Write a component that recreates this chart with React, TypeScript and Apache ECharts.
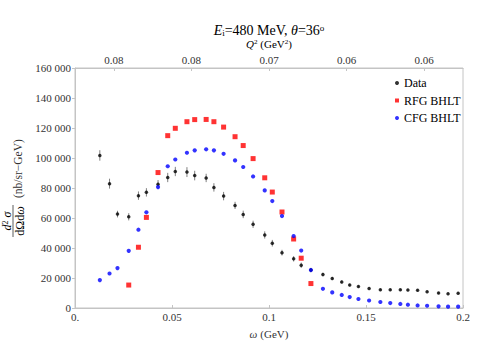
import React, { useEffect, useRef } from "react";
import * as echarts from "echarts";

// ω (GeV) positions shared by Data and CFG BHLT
const omega = [
  0.0128, 0.0178, 0.0219, 0.0277, 0.0327, 0.0368, 0.0428, 0.0478, 0.0517, 0.0577,
  0.0617, 0.0676, 0.0716, 0.0766, 0.0825, 0.0867, 0.0918, 0.0978, 0.1017, 0.1067,
  0.1127, 0.1166, 0.1216, 0.1278, 0.1326, 0.1375, 0.1416, 0.1461, 0.1516, 0.1574,
  0.1625, 0.1677, 0.1716, 0.1766, 0.1815, 0.1874, 0.1923, 0.1975,
];
const dataValues = [
  101700, 82900, 62600, 60800, 74900, 77100, 82500, 87000, 91000, 90600,
  88300, 86700, 80400, 74600, 68400, 62400, 55800, 48700, 43200, 36900,
  32800, 28500, 25300, 22300, 19700, 17400, 15300, 14300, 13000, 12200,
  12100, 12100, 12000, 11900, 10900, 10000, 9500, 9900,
];
const dataErrors = [
  3500, 3300, 2200, 2400, 2800, 2800, 2800, 3100, 3100, 3300,
  3200, 2800, 2800, 2800, 2400, 2500, 2400, 2400, 2200, 1900,
  1800, 1800, 1500, 1200, 1000, 900, 800, 700, 700, 600,
  600, 600, 600, 600, 600, 600, 600, 600,
];
const cfgValues = [
  18600, 23000, 26600, 38100, 52200, 63800, 80600, 94500, 99000, 103500,
  105100, 105800, 105100, 102800, 98400, 94000, 87700, 78400, 71300, 61300,
  48000, 38300, 25300, 12800, 10400, 8700, 7300, 6000, 5000, 4000,
  3300, 2700, 2200, 1700, 1500, 1100, 900, 900,
];
const rfgOmega = [
  0.0277, 0.0327, 0.0368, 0.0428, 0.0478, 0.0517, 0.0577, 0.0617, 0.0676, 0.0716,
  0.0766, 0.0825, 0.0867, 0.0918, 0.0978, 0.1017, 0.1067, 0.1127, 0.1166, 0.1216,
];
const rfgValues = [
  15300, 40500, 60400, 90300, 114900, 119800, 124200, 125600, 125700, 124200,
  120600, 114200, 108300, 99600, 86800, 77300, 64000, 46000, 33200, 16300,
];
const q2TickOmega = [0.02, 0.06, 0.1, 0.14, 0.18];
const q2TickLabels = ["0.08", "0.08", "0.07", "0.06", "0.06"];

const FONT = "'Liberation Serif', 'Times New Roman', serif";
const AXIS = "#c4c4c4";
const TEXT = "#333";

const richBase = (size: number) => ({
  n: { fontFamily: FONT, fontSize: size, color: TEXT, lineHeight: size },
  i: { fontFamily: FONT, fontSize: size, color: TEXT, fontStyle: "italic", lineHeight: size },
  sub: { fontFamily: FONT, fontSize: size * 0.65, color: TEXT, verticalAlign: "bottom", lineHeight: size * 0.6 },
  sup: { fontFamily: FONT, fontSize: size * 0.65, color: TEXT, verticalAlign: "top", lineHeight: size * 0.6 },
});

export default function App() {
  const ref = useRef<HTMLDivElement>(null);
  useEffect(() => {
    const chart = echarts.init(ref.current!, null, { renderer: "svg" });
    const option: any = {
      animation: false,
      textStyle: { fontFamily: FONT },
      grid: { left: 75, right: 17, top: 68, bottom: 52, show: true, borderColor: AXIS, borderWidth: 1 },
      legend: {
        orient: "vertical",
        left: 390,
        top: 72,
        itemWidth: 4,
        itemHeight: 4,
        itemGap: 5.5,
        textStyle: { fontFamily: FONT, fontSize: 12, color: "#000" },
        data: [
          { name: "Data", icon: "circle" },
          { name: "RFG BHLT", icon: "rect" },
          { name: "CFG BHLT", icon: "circle" },
        ],
      },
      xAxis: [
        {
          type: "value",
          min: 0,
          max: 0.2,
          interval: 0.05,
          axisLine: { show: true, lineStyle: { color: AXIS } },
          axisTick: { show: true, inside: true, length: 3, lineStyle: { color: AXIS } },
          splitLine: { show: false },
          axisLabel: {
            fontFamily: FONT,
            fontSize: 11,
            color: TEXT,
            margin: 3,
            formatter: (v: number) => (v === 0 ? "0." : String(+v.toFixed(2))),
          },
          name: "{i|ω} {n|(GeV)}",
          nameLocation: "middle",
          nameGap: 20,
          nameTextStyle: { rich: richBase(11) },
        },
        {
          type: "value",
          position: "top",
          min: 0,
          max: 0.2,
          axisLine: { show: true, lineStyle: { color: AXIS } },
          axisTick: { show: true, inside: true, length: 3, customValues: q2TickOmega, lineStyle: { color: AXIS } },
          splitLine: { show: false },
          axisLabel: {
            fontFamily: FONT,
            fontSize: 11,
            color: TEXT,
            margin: 3,
            customValues: q2TickOmega,
            formatter: (v: number) => {
              const k = q2TickOmega.findIndex((t) => Math.abs(t - v) < 1e-6);
              return k >= 0 ? q2TickLabels[k] : "";
            },
          },
        },
      ],
      yAxis: {
        type: "value",
        min: 0,
        max: 160000,
        interval: 20000,
        axisLine: { show: true, lineStyle: { color: AXIS } },
        axisTick: { show: true, inside: false, length: 3, lineStyle: { color: AXIS } },
        splitLine: { show: false },
        axisLabel: {
          fontFamily: FONT,
          fontSize: 11,
          color: TEXT,
          margin: 4,
          formatter: (v: number) => String(v).replace(/\B(?=(\d{3})+(?!\d))/g, " "),
        },
      },
      graphic: [
        {
          type: "text",
          x: 269,
          y: 30,
          style: {
            text: "{i|E}{sub|i}{n|=480 MeV, }{i|θ}{n|=36}{sup|o}",
            rich: richBase(14),
            align: "center",
            verticalAlign: "middle",
          },
        },
        {
          type: "text",
          x: 269,
          y: 44,
          style: {
            text: "{i|Q}{sup|2}{n| (GeV}{sup|2}{n|)}",
            rich: richBase(11),
            align: "center",
            verticalAlign: "middle",
          },
        },
        {
          type: "group",
          x: 13,
          y: 190,
          rotation: Math.PI / 2,
          children: [
            {
              type: "text",
              x: -31,
              y: -6,
              style: { text: "{i|d}{sup|2}{n| }{i|σ}", rich: richBase(12), align: "center", verticalAlign: "middle" },
            },
            {
              type: "line",
              shape: { x1: -47, y1: 0, x2: -15, y2: 0 },
              style: { stroke: TEXT, lineWidth: 0.8 },
            },
            {
              type: "text",
              x: -31,
              y: 6.5,
              style: { text: "{n|dΩd}{i|ω}", rich: richBase(12), align: "center", verticalAlign: "middle" },
            },
            {
              type: "text",
              x: -8,
              y: 5,
              style: {
                text: "(nb/sr−GeV)",
                fontFamily: FONT,
                fontSize: 11.5,
                fill: TEXT,
                align: "left",
                verticalAlign: "middle",
              },
            },
          ],
        },
      ],
      series: [
        {
          type: "custom",
          name: "errors",
          silent: true,
          z: 1,
          data: omega.map((w, k) => [w, dataValues[k] - dataErrors[k], dataValues[k] + dataErrors[k]]),
          encode: { x: 0, y: [1, 2] },
          renderItem: (_p: any, api: any) => {
            const lo = api.coord([api.value(0), api.value(1)]);
            const hi = api.coord([api.value(0), api.value(2)]);
            return {
              type: "line",
              shape: { x1: lo[0], y1: lo[1], x2: hi[0], y2: hi[1] },
              style: { stroke: "#808080", lineWidth: 1 },
            };
          },
        },
        {
          type: "scatter",
          name: "Data",
          symbol: "circle",
          symbolSize: 3.5,
          itemStyle: { color: "#000" },
          z: 2,
          data: omega.map((w, k) => [w, dataValues[k]]),
        },
        {
          type: "scatter",
          name: "RFG BHLT",
          symbol: "rect",
          symbolSize: 5,
          itemStyle: { color: "#ff0000" },
          z: 3,
          data: rfgOmega.map((w, k) => [w, rfgValues[k]]),
        },
        {
          type: "scatter",
          name: "CFG BHLT",
          symbol: "circle",
          symbolSize: 4.2,
          itemStyle: { color: "#0000ff" },
          z: 4,
          data: omega.map((w, k) => [w, cfgValues[k]]),
        },
      ],
    };
    chart.setOption(option);
    return () => chart.dispose();
  }, []);
  return <div ref={ref} style={{ width: 480, height: 360, position: "absolute", left: 0, top: 0 }} />;
}
